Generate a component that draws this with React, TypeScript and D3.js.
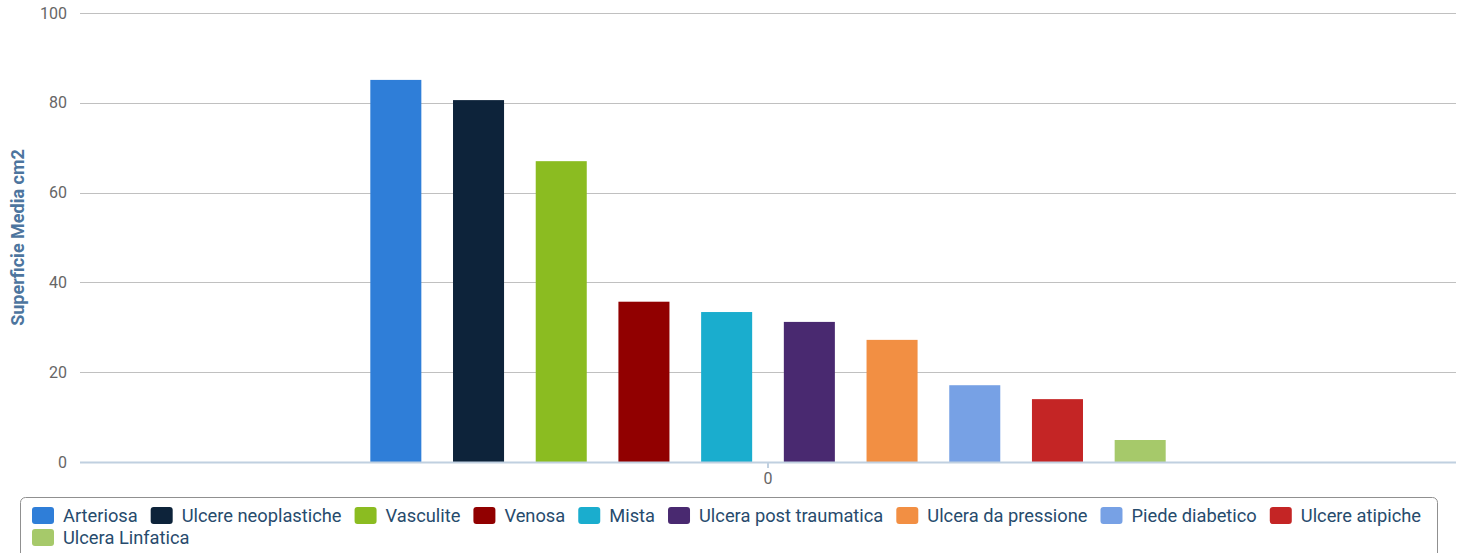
import React, { useEffect, useRef } from 'react';
import * as d3 from 'd3';

const width = 1463;
const height = 553;

const categories = ['0'];
const seriesNames = [
  'Arteriosa',
  'Ulcere neoplastiche',
  'Vasculite',
  'Venosa',
  'Mista',
  'Ulcera post traumatica',
  'Ulcera da pressione',
  'Piede diabetico',
  'Ulcere atipiche',
  'Ulcera Linfatica',
];
const seriesValues = [85.1, 80.6, 67.0, 35.7, 33.4, 31.2, 27.2, 17.1, 14.0, 4.9];
const seriesColors = [
  '#2F7ED8',
  '#0D233A',
  '#8BBC21',
  '#910000',
  '#1AADCE',
  '#492970',
  '#F28F43',
  '#77A1E5',
  '#C42525',
  '#A6C96A',
];
const yTicks = [0, 20, 40, 60, 80, 100];

const margin = { top: 13, right: 7, bottom: 91, left: 80 };

const App: React.FC = () => {
  const ref = useRef<SVGSVGElement>(null);

  useEffect(() => {
    if (!ref.current) return;
    const svg = d3.select(ref.current);
    svg.selectAll('*').remove();

    const plotW = width - margin.left - margin.right;
    const plotH = height - margin.top - margin.bottom;
    const g = svg.append('g').attr('transform', `translate(${margin.left},${margin.top})`);

    const y = d3.scaleLinear().domain([0, 100]).range([plotH, 0]);
    const x0 = d3.scaleBand<string>().domain(categories).range([0, plotW]).paddingOuter(0.365);
    const x1 = d3
      .scaleBand<string>()
      .domain(seriesNames)
      .range([0, x0.bandwidth()])
      .paddingInner(0.383)
      .paddingOuter(0);

    // grid
    g.selectAll('line.grid')
      .data(yTicks.filter(t => t !== 0))
      .enter()
      .append('line')
      .attr('x1', 0)
      .attr('x2', plotW)
      .attr('y1', d => Math.round(y(d)) + 0.5)
      .attr('y2', d => Math.round(y(d)) + 0.5)
      .attr('stroke', '#C0C0C0')
      .attr('stroke-width', 1);

    // y tick labels
    g.selectAll('text.ytick')
      .data(yTicks)
      .enter()
      .append('text')
      .attr('x', -13)
      .attr('y', d => y(d))
      .attr('dy', '0.35em')
      .attr('text-anchor', 'end')
      .attr('fill', '#666')
      .style('font-family', 'Roboto, sans-serif')
      .style('font-size', '16px')
      .text(d => d);

    // bars
    const groups = g
      .selectAll('g.cat')
      .data(categories)
      .enter()
      .append('g')
      .attr('transform', d => `translate(${x0(d)},0)`);

    groups
      .selectAll('rect')
      .data(() => seriesNames.map((name, i) => ({ name, value: seriesValues[i], color: seriesColors[i] })))
      .enter()
      .append('rect')
      .attr('x', d => x1(d.name) as number)
      .attr('width', x1.bandwidth())
      .attr('y', d => y(d.value))
      .attr('height', d => plotH - y(d.value))
      .attr('fill', d => d.color);

    // x axis
    g.append('line')
      .attr('x1', 0)
      .attr('x2', plotW)
      .attr('y1', plotH + 0.5)
      .attr('y2', plotH + 0.5)
      .attr('stroke', '#C0D0E0')
      .attr('stroke-width', 2);

    categories.forEach(c => {
      const cx = (x0(c) as number) + x0.bandwidth() / 2;
      g.append('line')
        .attr('x1', cx)
        .attr('x2', cx)
        .attr('y1', plotH)
        .attr('y2', plotH + 6)
        .attr('stroke', '#C0D0E0')
        .attr('stroke-width', 2);
      g.append('text')
        .attr('x', cx)
        .attr('y', plotH + 22)
        .attr('text-anchor', 'middle')
        .attr('fill', '#666')
        .style('font-family', 'Roboto, sans-serif')
        .style('font-size', '16px')
        .text(c);
    });

    // y axis title
    svg
      .append('text')
      .attr('transform', `translate(24,${margin.top + plotH / 2}) rotate(-90)`)
      .attr('text-anchor', 'middle')
      .attr('fill', '#4D759E')
      .style('font-family', 'Roboto, sans-serif')
      .style('font-size', '18px')
      .style('font-weight', 'bold')
      .text('Superficie Media cm2');

    // legend
    const boxX = 20.5;
    const boxY = 497.5;
    const boxW = 1417;
    const boxH = 70;
    svg
      .append('rect')
      .attr('x', boxX)
      .attr('y', boxY)
      .attr('width', boxW)
      .attr('height', boxH)
      .attr('rx', 5)
      .attr('fill', 'none')
      .attr('stroke', '#909090')
      .attr('stroke-width', 1);

    const leg = svg.append('g');
    let lx = 32;
    let row = 0;
    const rowH = 22;
    const maxX = boxX + boxW - 2;
    seriesNames.forEach((name, i) => {
      const item = leg.append('g');
      const t = item
        .append('text')
        .attr('x', 31)
        .attr('y', 0)
        .attr('dy', '0.35em')
        .attr('fill', '#274B6D')
        .style('font-family', 'Roboto, sans-serif')
        .style('font-size', '18.3px')
        .text(name);
      const tw = (t.node() as SVGTextElement).getComputedTextLength();
      const itemW = 31 + tw;
      if (lx + itemW > maxX) {
        lx = 32;
        row += 1;
      }
      item
        .append('rect')
        .attr('x', 0)
        .attr('y', -8.5)
        .attr('width', 22)
        .attr('height', 17)
        .attr('rx', 3)
        .attr('fill', seriesColors[i]);
      item.attr('transform', `translate(${lx},${515.5 + row * rowH})`);
      lx += itemW + 13;
    });
  }, []);

  return (
    <svg
      ref={ref}
      width={width}
      height={height}
      style={{ position: 'absolute', top: 0, left: 0, background: '#fff' }}
    />
  );
};

export default App;
